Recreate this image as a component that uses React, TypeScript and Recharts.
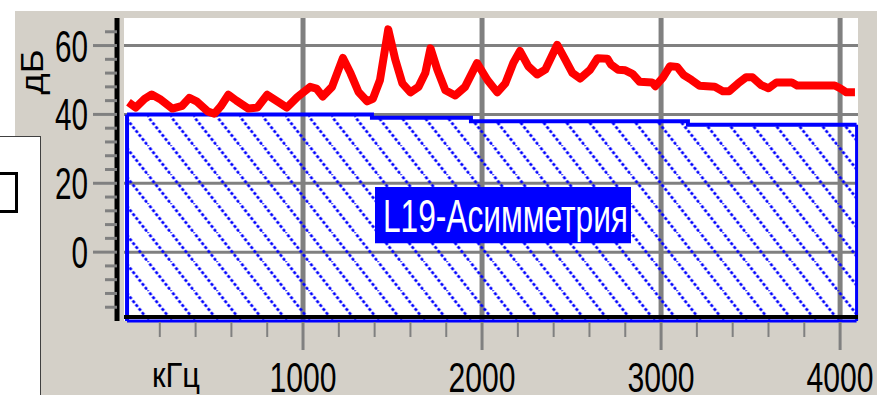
import React from 'react';
import {
  ComposedChart,
  Line,
  Area,
  XAxis,
  YAxis,
  CartesianGrid,
  ReferenceLine,
  ReferenceArea,
} from 'recharts';

// спектр сигнала: частота (Гц) и уровень (дБ)
const freqs = [
  25, 65, 115, 155, 200, 270, 325, 365, 405, 470,
  505, 540, 583, 628, 695, 745, 800, 850, 910, 968,
  1040, 1075, 1110, 1162, 1223, 1265, 1310, 1358, 1390, 1430,
  1476, 1515, 1555, 1600, 1645, 1683, 1712, 1750, 1795, 1850,
  1905, 1972, 2030, 2085, 2130, 2175, 2212, 2258, 2308, 2353,
  2420, 2464, 2505, 2548, 2604, 2645, 2700, 2720, 2760, 2800,
  2840, 2880, 2950, 2968, 3010, 3050, 3090, 3125, 3170, 3215,
  3300, 3345, 3380, 3430, 3475, 3510, 3560, 3600, 3645, 3730,
  3760, 3970, 4000, 4035, 4083,
];
const levels = [
  43.5, 42, 44.5, 45.8, 44.5, 41.7, 42.5, 44.8, 43.8, 40.8,
  40.2, 42.3, 45.7, 44, 41.7, 42, 45.7, 44, 42, 45,
  48, 47.5, 45.2, 48, 56.4, 52, 46.5, 43.8, 44.5, 50,
  64.7, 56, 49, 46.4, 48, 52, 59.2, 53, 47, 45.5,
  48, 54.9, 50, 46.4, 49, 55, 58.4, 54, 51.6, 53,
  60.2, 56, 52, 50.4, 53, 56.3, 56.2, 54.5, 53, 52.8,
  51.8, 49.5, 49.3, 48.2, 50.7, 54, 53.8, 51.5, 50, 48.3,
  48, 46.7, 46.7, 49, 50.8, 50.8, 48.5, 47.6, 49.3, 49.3,
  48.4, 48.4, 47.6, 46.4, 46.4,
];

// порог L19 (ступенчатая маска)
const maskFreqs = [17, 1385, 1938, 3150, 4092];
const maskLevels = [40, 39, 38, 37, 37];

const freqTicks = [
  200, 400, 600, 800, 1000, 1200, 1400, 1600, 1800, 2000,
  2200, 2400, 2600, 2800, 3000, 3200, 3400, 3600, 3800, 4000,
];
const dbTicks = [-16, -12, -8, -4, 0, 4, 8, 12, 16, 20, 24, 28, 32, 36, 40, 44, 48, 52, 56, 60, 64];
const gridDb = [0, 20, 40, 60];
const gridFreq = [1000, 2000, 3000, 4000];

const spectrum = freqs.map((f, i) => ({ f, db: levels[i] }));
const mask = maskFreqs.map((f, i) => ({ f, v: maskLevels[i] }));

const FONT = "'Liberation Sans', Arial, sans-serif";
const GRID = '#808080';
const BLUE = '#0000ff';

function DbTick(props: any) {
  const { x, y, payload } = props;
  const major = payload.value % 20 === 0;
  const label = String(payload.value);
  return (
    <g>
      <line x1={x - (major ? 31 : 19)} x2={x - 7} y1={y} y2={y} stroke={GRID} strokeWidth={3} />
      {major && (
        <text
          x={x - 36}
          y={y + 16}
          textAnchor="end"
          fontSize={44}
          fontFamily={FONT}
          fill="#000"
          textLength={label.length * 16.5}
          lengthAdjust="spacingAndGlyphs"
        >
          {label}
        </text>
      )}
    </g>
  );
}

function FreqTick(props: any) {
  const { x, y, payload } = props;
  const major = payload.value % 1000 === 0;
  return (
    <g>
      <line
        x1={x}
        x2={x}
        y1={y + 1}
        y2={y + (major ? 29 : 16)}
        stroke={GRID}
        strokeWidth={major ? 3 : 2}
      />
      {major && (
        <text
          x={x}
          y={y + 71}
          textAnchor="middle"
          fontSize={43}
          fontFamily={FONT}
          fill="#000"
          textLength={67}
          lengthAdjust="spacingAndGlyphs"
        >
          {payload.value}
        </text>
      )}
    </g>
  );
}

function DbUnit(props: any) {
  const vb = props.viewBox;
  if (!vb) return null;
  return (
    <text
      transform={`translate(${vb.x + 29}, ${vb.y + 54}) rotate(-90)`}
      textAnchor="middle"
      fontSize={31}
      fontFamily={FONT}
      fill="#000"
      textLength={45}
      lengthAdjust="spacingAndGlyphs"
    >
      дБ
    </text>
  );
}

function FreqUnit(props: any) {
  const vb = props.viewBox;
  if (!vb) return null;
  return (
    <text
      x={vb.x + 28}
      y={vb.y + 66}
      fontSize={35}
      fontFamily={FONT}
      fill="#000"
      textLength={48}
      lengthAdjust="spacingAndGlyphs"
    >
      кГц
    </text>
  );
}

function TagLabel(props: any) {
  const vb = props.viewBox;
  if (!vb) return null;
  return (
    <text
      x={vb.x + 8}
      y={vb.y + 45}
      fill="#fff"
      fontSize={46}
      fontFamily={FONT}
      textLength={245}
      lengthAdjust="spacingAndGlyphs"
    >
      L19-Асимметрия
    </text>
  );
}

export default function App() {
  return (
    <div
      style={{
        position: 'absolute',
        left: 0,
        top: 0,
        width: 877,
        height: 395,
        overflow: 'hidden',
        background: '#fff',
      }}
    >
      <div
        style={{
          position: 'absolute',
          left: 15,
          top: 11,
          width: 862,
          height: 384,
          background: '#d4d0c8',
        }}
      />
      <div style={{ position: 'absolute', left: 0, top: 0 }}>
        <ComposedChart
          width={877}
          height={395}
          margin={{ top: 18, right: 19, bottom: 14, left: 14 }}
        >
          <defs>
            <pattern
              id="hatch"
              patternUnits="userSpaceOnUse"
              width={23}
              height={29}
              patternTransform="translate(9.4,0)"
            >
              <line
                x1={-1}
                y1={-1.26}
                x2={24}
                y2={30.26}
                stroke={BLUE}
                strokeWidth={2.6}
                strokeDasharray="3 2"
              />
            </pattern>
          </defs>
          <CartesianGrid
            fill="#fff"
            fillOpacity={1}
            horizontalValues={gridDb}
            verticalValues={gridFreq}
            horizontal={(p: any) => (
              <line key={`h-${p.index}`} x1={p.x1} x2={p.x2} y1={p.y1} y2={p.y2} stroke={GRID} strokeWidth={3} />
            )}
            vertical={(p: any) => (
              <line key={`v-${p.index}`} x1={p.x1} x2={p.x2} y1={p.y1} y2={p.y2} stroke={GRID} strokeWidth={5} />
            )}
          />
          <XAxis
            type="number"
            dataKey="f"
            domain={[0, 4100]}
            allowDataOverflow
            ticks={freqTicks}
            interval={0}
            axisLine={false}
            tickLine={false}
            tickSize={0}
            tickMargin={0}
            height={60}
            tick={FreqTick}
            label={<FreqUnit />}
          />
          <YAxis
            type="number"
            domain={[-20, 68]}
            allowDataOverflow
            ticks={dbTicks}
            interval={0}
            axisLine={false}
            tickLine={false}
            tickSize={0}
            tickMargin={0}
            width={110}
            tick={DbTick}
            label={<DbUnit />}
          />
          <Area
            data={mask}
            dataKey="v"
            type="stepAfter"
            baseValue="dataMin"
            fill="url(#hatch)"
            fillOpacity={1}
            stroke={BLUE}
            strokeWidth={4}
            isAnimationActive={false}
          />
          <ReferenceLine
            segment={[{ x: maskFreqs[0], y: -20 }, { x: maskFreqs[0], y: maskLevels[0] }]}
            stroke={BLUE}
            strokeWidth={4}
          />
          <ReferenceLine
            segment={[
              { x: maskFreqs[maskFreqs.length - 1], y: -20 },
              { x: maskFreqs[maskFreqs.length - 1], y: maskLevels[maskLevels.length - 1] },
            ]}
            stroke={BLUE}
            strokeWidth={3}
          />
          <ReferenceLine
            y={-18.85}
            stroke="#000"
            strokeWidth={4}
          />
          <ReferenceLine
            segment={[{ x: maskFreqs[0], y: -20 }, { x: maskFreqs[maskFreqs.length - 1], y: -20 }]}
            stroke={BLUE}
            strokeWidth={3}
          />
          <ReferenceArea
            x1={1402}
            x2={2832}
            y1={2.6}
            y2={18.9}
            fill={BLUE}
            fillOpacity={1}
            stroke="none"
            label={<TagLabel />}
          />
          <Line
            data={spectrum}
            dataKey="db"
            type="linear"
            stroke="#ff0000"
            strokeWidth={8}
            strokeLinejoin="round"
            dot={false}
            activeDot={false}
            isAnimationActive={false}
          />
          <ReferenceLine x={-39} ifOverflow="visible" stroke="#000" strokeWidth={5} />
        </ComposedChart>
      </div>
      <div
        style={{
          position: 'absolute',
          left: 0,
          top: 136,
          width: 40,
          height: 259,
          background: '#fff',
          borderTop: '1px solid #404040',
          borderRight: '1px solid #404040',
        }}
      />
      <div
        style={{
          position: 'absolute',
          left: -30,
          top: 172,
          width: 42,
          height: 35,
          border: '3px solid #000',
        }}
      />
    </div>
  );
}
